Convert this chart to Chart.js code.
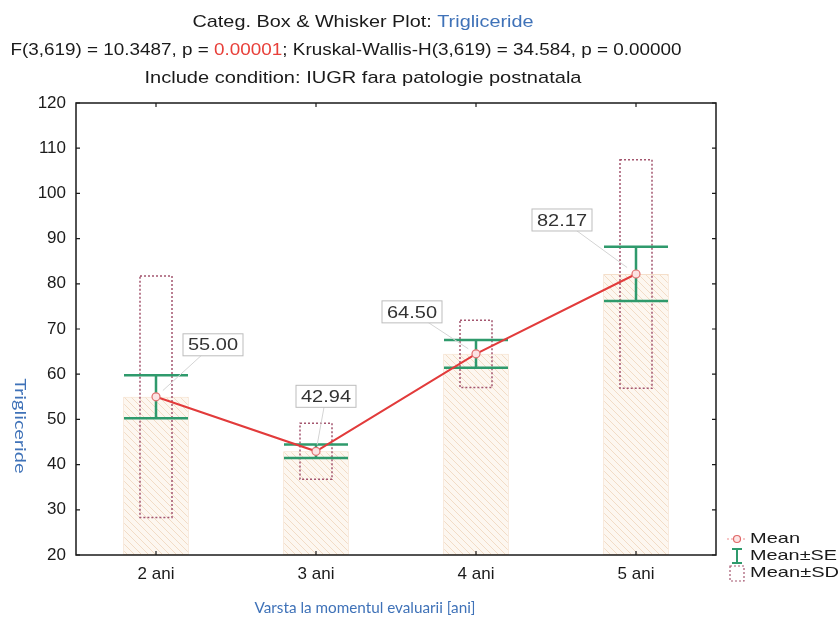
<!DOCTYPE html>
<html>
<head>
<meta charset="utf-8">
<script src="https://cdn.jsdelivr.net/npm/chart.js@4.4.1/dist/chart.umd.min.js"></script>
<style>
    html, body { margin: 0; padding: 0; background: #fff; }
</style>
</head>
<body>
<canvas id="boxChart" width="839" height="620"></canvas>
<script>
const categories = ['2 ani', '3 ani', '4 ani', '5 ani'];
const means = [55.00, 42.94, 64.50, 82.17];
const seValues = [4.75, 1.50, 3.05, 6.00];
const sdValues = [26.7, 6.20, 7.45, 25.3];
const yTicks = [20, 30, 40, 50, 60, 70, 80, 90, 100, 110, 120];
const legendLabels = ['Mean', 'Mean±SE', 'Mean±SD'];

const BLUE = '#3f72b8';
const FONT = '"Liberation Sans", Arial, sans-serif';

// diagonal hatch used for the mean bars
const makeHatch = () => {
    const c = document.createElement('canvas');
    c.width = 7;
    c.height = 7;
    const g = c.getContext('2d');
    g.fillStyle = '#fdf7f0';
    g.fillRect(0, 0, 7, 7);
    g.strokeStyle = '#f2dcc6';
    g.lineWidth = 1;
    g.beginPath();
    g.moveTo(-1, -1); g.lineTo(8, 8);
    g.moveTo(-8, -1); g.lineTo(1, 8);
    g.moveTo(6, -1); g.lineTo(15, 8);
    g.stroke();
    return g.createPattern(c, 'repeat');
};

// draws coloured text segments centred on cx, stretched to a given width
const drawRich = (ctx, segments, cx, y, font, width) => {
    ctx.save();
    ctx.font = font;
    ctx.textBaseline = 'middle';
    ctx.textAlign = 'left';
    const natural = segments.reduce((s, seg) => s + ctx.measureText(seg.text).width, 0);
    const sx = width ? width / natural : 1;
    ctx.translate(cx - (natural * sx) / 2, y);
    ctx.scale(sx, 1);
    let x = 0;
    segments.forEach((seg) => {
        ctx.fillStyle = seg.color || '#1a1a1a';
        ctx.fillText(seg.text, x, 0);
        x += ctx.measureText(seg.text).width;
    });
    ctx.restore();
};

const whiskerPlugin = {
    id: 'whiskers',
    afterDatasetDraw(chart, args) {
        if (args.index !== 1) return;
        const { ctx, scales: { x, y } } = chart;
        const catW = x.getPixelForTick(1) - x.getPixelForTick(0);

        ctx.save();
        // mean ± SD dotted boxes
        ctx.strokeStyle = '#a4566f';
        ctx.lineWidth = 1.5;
        ctx.setLineDash([2, 2]);
        means.forEach((m, i) => {
            const cx = x.getPixelForValue(i);
            const top = y.getPixelForValue(m + sdValues[i]);
            const bot = y.getPixelForValue(m - sdValues[i]);
            const w = catW * 0.2;
            ctx.strokeRect(cx - w / 2, top, w, bot - top);
        });

        // mean ± SE whiskers
        ctx.setLineDash([]);
        ctx.strokeStyle = '#2f9a6c';
        ctx.lineWidth = 2.5;
        means.forEach((m, i) => {
            const cx = x.getPixelForValue(i);
            const top = y.getPixelForValue(m + seValues[i]);
            const bot = y.getPixelForValue(m - seValues[i]);
            const w = catW * 0.4;
            ctx.beginPath();
            ctx.moveTo(cx - w / 2, top); ctx.lineTo(cx + w / 2, top);
            ctx.moveTo(cx - w / 2, bot); ctx.lineTo(cx + w / 2, bot);
            ctx.moveTo(cx, top); ctx.lineTo(cx, bot);
            ctx.stroke();
        });
        ctx.restore();
    }
};

const framePlugin = {
    id: 'frame',
    afterDatasetsDraw(chart, _args, opts) {
        const { ctx, chartArea: a, scales: { x, y } } = chart;
        ctx.save();
        ctx.strokeStyle = '#1a1a1a';
        ctx.lineWidth = 1.5;
        ctx.strokeRect(a.left, a.top, a.right - a.left, a.bottom - a.top);
        ctx.lineWidth = 1.2;
        ctx.beginPath();
        yTicks.forEach((v) => {
            const py = y.getPixelForValue(v);
            ctx.moveTo(a.left, py); ctx.lineTo(a.left + 4, py);
            ctx.moveTo(a.right, py); ctx.lineTo(a.right - 4, py);
        });
        categories.forEach((_c, i) => {
            const px = x.getPixelForValue(i);
            ctx.moveTo(px, a.bottom); ctx.lineTo(px, a.bottom - 4);
            ctx.moveTo(px, a.top); ctx.lineTo(px, a.top + 4);
        });
        ctx.stroke();

        // value labels with leader lines
        means.forEach((m, i) => {
            const px = x.getPixelForValue(i);
            const py = y.getPixelForValue(m);
            const [dx, dy] = opts.offsets[i];
            const bx = px + dx;
            const by = py + dy;
            ctx.strokeStyle = '#d4d4d4';
            ctx.lineWidth = 1;
            ctx.beginPath();
            ctx.moveTo(bx, by);
            ctx.lineTo(px + (bx - px) * 0.12, py + (by - py) * 0.12);
            ctx.stroke();
            ctx.fillStyle = '#fff';
            ctx.fillRect(bx - 30, by - 11, 60, 22);
            ctx.strokeStyle = '#bdbdbd';
            ctx.strokeRect(bx - 30, by - 11, 60, 22);
            drawRich(ctx, [{ text: m.toFixed(2), color: '#333' }], bx, by + 1, `17px ${FONT}`, 50);
        });
        ctx.restore();
    },
    afterDraw(chart) {
        const { ctx } = chart;
        // titles
        drawRich(ctx, [
            { text: 'Categ. Box & Whisker Plot: ' },
            { text: 'Trigliceride', color: BLUE }
        ], 363, 22, `17px ${FONT}`, 341);
        drawRich(ctx, [
            { text: 'F(3,619) = 10.3487, p = ' },
            { text: '0.00001', color: '#e8403a' },
            { text: '; Kruskal-Wallis-H(3,619) = 34.584, p = 0.00000' }
        ], 346, 50, `17px ${FONT}`, 671);
        drawRich(ctx, [
            { text: 'Include condition: IUGR fara patologie postnatala' }
        ], 363, 78, `17px ${FONT}`, 437);

        // axis titles
        drawRich(ctx, [{ text: 'Varsta la momentul evaluarii [ani]', color: BLUE }],
            365, 608, '15px Lato, sans-serif', 221);
        ctx.save();
        ctx.translate(20, 426);
        ctx.rotate(Math.PI / 2);
        drawRich(ctx, [{ text: 'Trigliceride', color: BLUE }], 0, 0, '15px Lato, sans-serif', 95);
        ctx.restore();

        // legend
        ctx.save();
        const lx = 737;
        const rows = [539, 556, 573];
        ctx.strokeStyle = '#f0a0a0';
        ctx.lineWidth = 1.2;
        ctx.setLineDash([2, 2]);
        ctx.beginPath();
        ctx.moveTo(lx - 10, rows[0]); ctx.lineTo(lx + 10, rows[0]);
        ctx.stroke();
        ctx.setLineDash([]);
        ctx.fillStyle = '#fde4e4';
        ctx.strokeStyle = '#e06868';
        ctx.beginPath();
        ctx.arc(lx, rows[0], 3.5, 0, Math.PI * 2);
        ctx.fill();
        ctx.stroke();

        ctx.strokeStyle = '#2f9a6c';
        ctx.lineWidth = 2;
        ctx.beginPath();
        ctx.moveTo(lx - 5, rows[1] - 7); ctx.lineTo(lx + 5, rows[1] - 7);
        ctx.moveTo(lx - 5, rows[1] + 7); ctx.lineTo(lx + 5, rows[1] + 7);
        ctx.moveTo(lx, rows[1] - 7); ctx.lineTo(lx, rows[1] + 7);
        ctx.stroke();

        ctx.strokeStyle = '#a4566f';
        ctx.lineWidth = 1.2;
        ctx.setLineDash([2, 2]);
        ctx.strokeRect(lx - 7, rows[2] - 7, 14, 15);
        ctx.setLineDash([]);
        ctx.restore();

        const legendWidths = [50, 87, 89];
        legendLabels.forEach((t, i) => {
            drawRich(ctx, [{ text: t }], 750 + legendWidths[i] / 2, rows[i], `15px ${FONT}`, legendWidths[i]);
        });
    }
};

new Chart(document.getElementById('boxChart'), {
    type: 'bar',
    data: {
        labels: categories,
        datasets: [
            {
                type: 'line',
                label: 'Mean',
                data: means,
                borderColor: '#e23b3b',
                borderWidth: 2,
                pointRadius: 4,
                pointBackgroundColor: '#fbe3e3',
                pointBorderColor: '#e07070',
                pointBorderWidth: 1.2,
                tension: 0,
                order: 0
            },
            {
                type: 'bar',
                label: 'Mean bar',
                data: means.map((m) => [yTicks[0], m]),
                backgroundColor: makeHatch(),
                borderColor: '#f5dfca',
                borderWidth: 1,
                borderSkipped: false,
                categoryPercentage: 1,
                barPercentage: 0.41,
                order: 1
            }
        ]
    },
    options: {
        responsive: false,
        animation: false,
        devicePixelRatio: 1,
        layout: { padding: { top: 103, right: 123, left: 0, bottom: 0 } },
        scales: {
            x: {
                grid: { display: false, drawTicks: false },
                border: { display: false },
                ticks: { color: '#1a1a1a', font: { family: FONT, size: 17 }, padding: 9 },
                afterFit: (scale) => { scale.height = 65; }
            },
            y: {
                min: yTicks[0],
                max: yTicks[yTicks.length - 1],
                grid: { display: false, drawTicks: false },
                border: { display: false },
                afterBuildTicks: (scale) => { scale.ticks = yTicks.map((v) => ({ value: v })); },
                ticks: { color: '#1a1a1a', font: { family: FONT, size: 17 }, padding: 10 },
                afterFit: (scale) => { scale.width = 76; }
            }
        },
        plugins: {
            legend: { display: false },
            tooltip: { enabled: false },
            frame: { offsets: [[57, -52], [10, -55], [-64, -42], [-74, -54]] }
        }
    },
    plugins: [whiskerPlugin, framePlugin]
});
</script>
</body>
</html>
